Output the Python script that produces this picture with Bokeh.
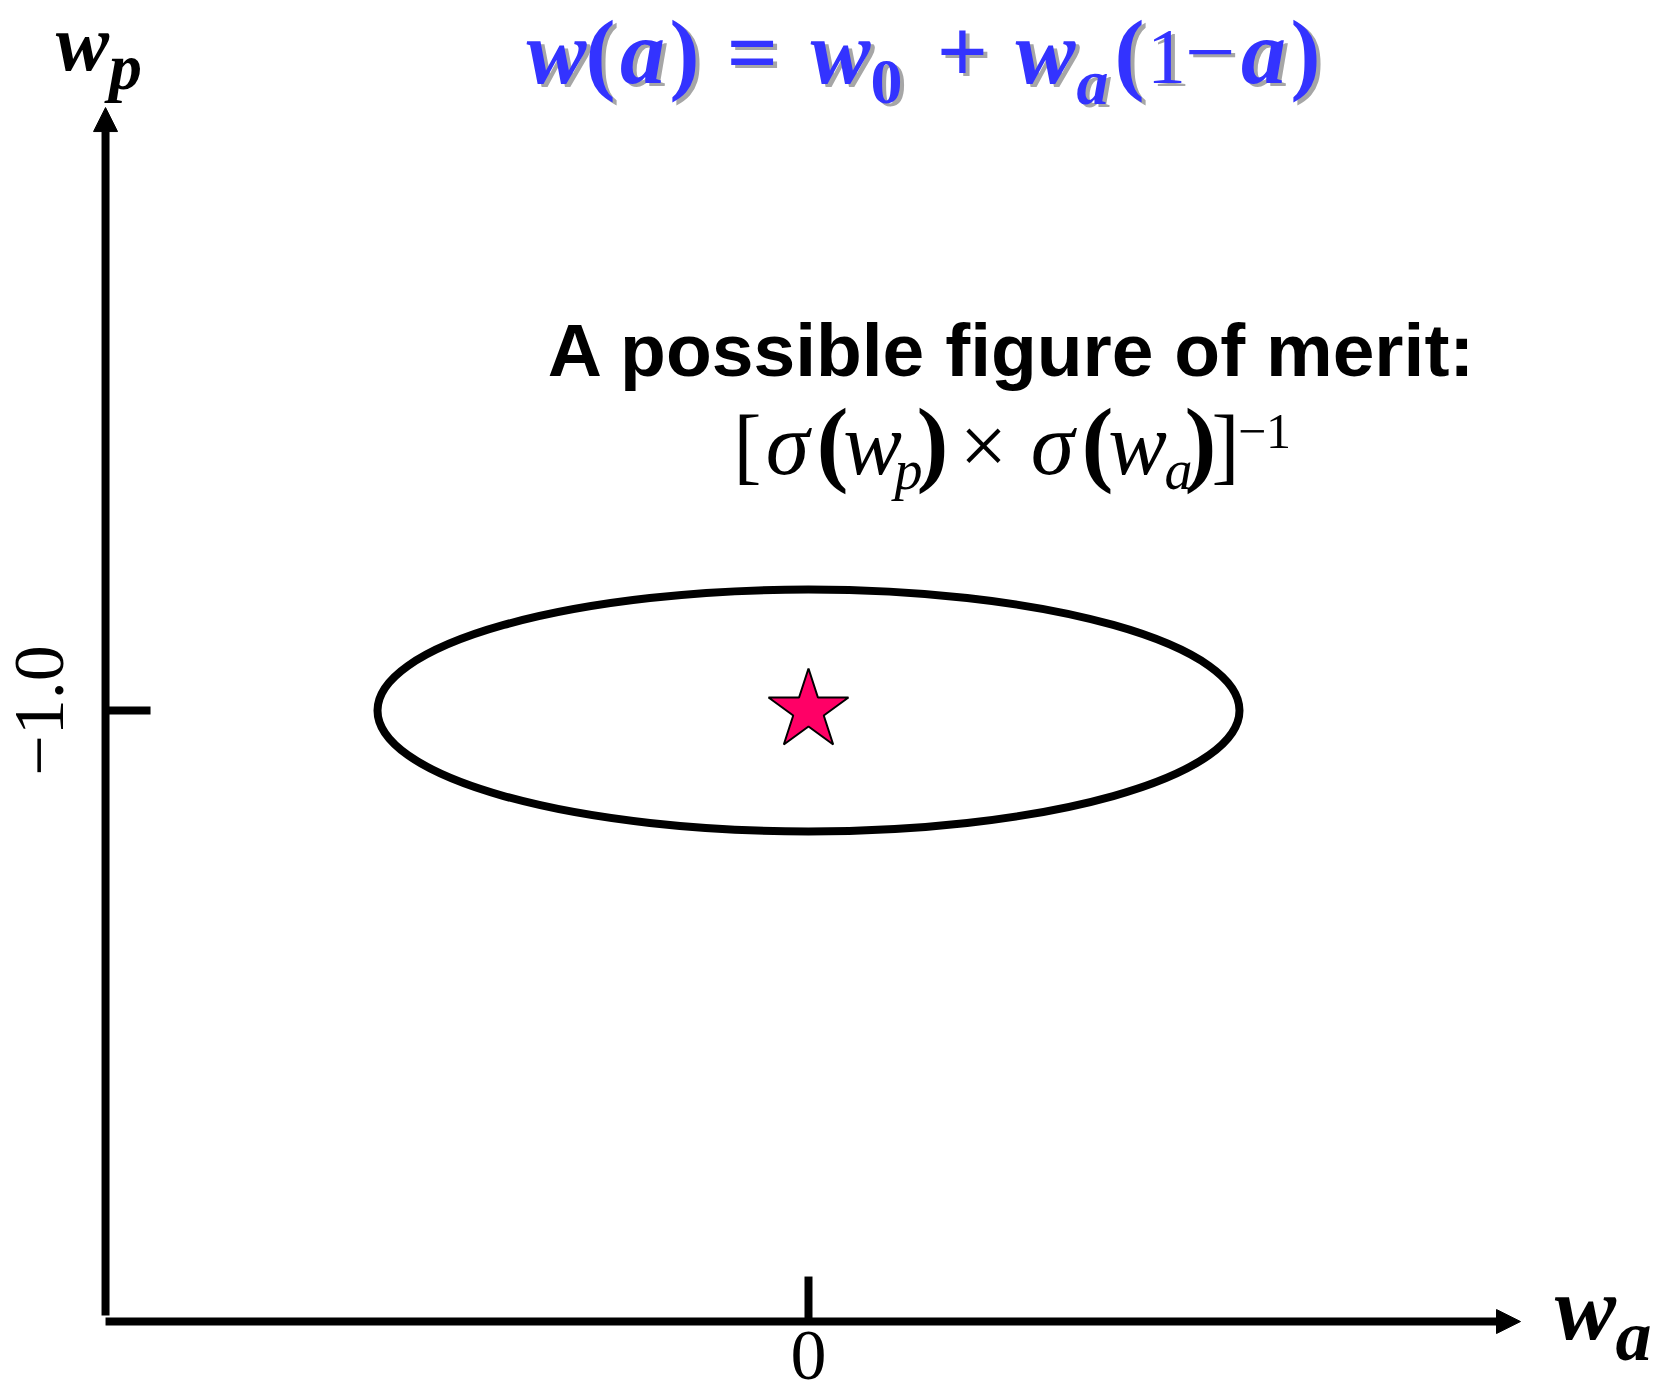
import math
from bokeh.plotting import figure
from bokeh.models import Range1d, Arrow, NormalHead, ColumnDataSource
from bokeh.core.properties import value
from bokeh.embed import file_html
from bokeh.resources import INLINE

# ---------------- data ----------------
wa_ticks = [0.0]
wa_tick_labels = ["0"]
wp_ticks = [-1.0]
wp_tick_labels = ["\u22121.0"]

fiducial_wa = [0.0]
fiducial_wp = [-1.0]
ellipse_wa_width = [1.0]     # full extent of the error ellipse along w_a
ellipse_wp_height = [0.2]    # full extent of the error ellipse along w_p

# ---------------- view ----------------
W, H = 1662, 1398
XMIN, XMAX = -0.93735, 0.99072
YMIN, YMAX = -1.56860, -0.41322

AX_X, AX_Y = -0.8155, -1.505      # axis origin
Y_AXIS_BOTTOM = -1.500
Y_TIP, X_TIP = -0.5017, 0.826
TICK_X, TICK_Y = 0.0522, 0.0372
K = 0.38   # baseline correction (fraction of font size)

p = figure(width=W, height=H, x_range=Range1d(XMIN, XMAX), y_range=Range1d(YMIN, YMAX),
           x_axis_type=None, y_axis_type=None, toolbar_location=None,
           output_backend="svg", min_border=0, outline_line_color=None)
p.grid.visible = False
p.background_fill_color = "white"
p.border_fill_color = "white"


def dx(px):
    return XMIN + px * (XMAX - XMIN) / W


def dy(py):
    return YMAX - py * (YMAX - YMIN) / H


# axes as arrows
p.add_layout(Arrow(end=NormalHead(size=24, fill_color="black", line_color="black"),
                   x_start=AX_X, y_start=Y_AXIS_BOTTOM, x_end=AX_X, y_end=Y_TIP,
                   line_width=8, line_color="black"))
p.add_layout(Arrow(end=NormalHead(size=24, fill_color="black", line_color="black"),
                   x_start=AX_X, y_start=AX_Y, x_end=X_TIP, y_end=AX_Y,
                   line_width=8, line_color="black"))

# ticks
p.segment(x0=wa_ticks, y0=[AX_Y] * len(wa_ticks), x1=wa_ticks, y1=[AX_Y + TICK_Y] * len(wa_ticks),
          line_width=8, line_color="black")
p.segment(x0=[AX_X] * len(wp_ticks), y0=wp_ticks, x1=[AX_X + TICK_X] * len(wp_ticks), y1=wp_ticks,
          line_width=8, line_color="black")

# tick labels
p.text(x=wa_ticks, y=[dy(1382 - K * 72)] * len(wa_ticks), text=wa_tick_labels,
       text_font=value("Liberation Serif"), text_font_size="72px",
       text_align="center", text_baseline="alphabetic", text_color="black")
p.text(x=[dx(66 - K * 72)] * len(wp_ticks), y=wp_ticks, text=wp_tick_labels, angle=math.pi / 2,
       text_font=value("Liberation Serif"), text_font_size="72px",
       text_align="center", text_baseline="alphabetic", text_color="black")

# error ellipse and fiducial
p.ellipse(x=fiducial_wa, y=fiducial_wp, width=ellipse_wa_width, height=ellipse_wp_height,
          fill_color=None, line_color="black", line_width=8)
p.scatter(x=fiducial_wa, y=fiducial_wp, marker="star", size=84,
          fill_color="#FF0066", line_color="black", line_width=2)

# ---------------- texts ----------------
BLUE = "#3333FF"
SHADOW = "#A6A6A6"

cols = dict(x=[], y=[], text=[], size=[], style=[], font=[], color=[], align=[])


def put(t, px, py, size, style="normal", font="Liberation Serif", color="black", align="center"):
    cols["x"].append(dx(px))
    cols["y"].append(dy(py - K * size))
    cols["text"].append(t)
    cols["size"].append(f"{size}px")
    cols["style"].append(style)
    cols["font"].append(font)
    cols["color"].append(color)
    cols["align"].append(align)


TB = 86   # title baseline
title_parts = [
    ("w", 556, TB, 90, "bold italic"),
    ("(", 600, TB, 90, "bold"),
    ("a", 642, TB, 90, "bold italic"),
    (")", 684, TB, 90, "bold"),
    ("=", 752, TB, 90, "bold"),
    ("w", 840, TB, 90, "bold italic"),
    ("0", 886, TB + 20, 64, "bold"),
    ("+", 962, TB, 90, "bold"),
    ("w", 1045, TB, 90, "bold italic"),
    ("a", 1092, TB + 20, 64, "bold italic"),
    ("(", 1129, TB, 90, "bold"),
    ("1", 1166, TB, 78, "normal"),
    ("\u2212", 1210, TB, 90, "normal"),
    ("a", 1263, TB, 90, "bold italic"),
    (")", 1305, TB, 90, "bold"),
]
for t, px, py, s, st in title_parts:
    put(t, px + 4, py + 3, s, st, color=SHADOW)
for t, px, py, s, st in title_parts:
    put(t, px, py, s, st, color=BLUE)

put("A possible figure of merit:", 1012, 378, 75, "bold", font="Liberation Sans")

fom_parts = [
    ("[", 747, 477, 84, "normal"),
    ("\u03c3", 787, 477, 88, "italic"),
    ("(", 832, 477, 96, "bold"),
    ("w", 872, 477, 88, "italic"),
    ("p", 908, 491, 56, "italic"),
    (")", 932, 477, 96, "bold"),
    ("\u00d7", 983, 477, 84, "normal"),
    ("\u03c3", 1052, 477, 88, "italic"),
    ("(", 1097, 477, 96, "bold"),
    ("w", 1137, 477, 88, "italic"),
    ("a", 1178, 491, 56, "italic"),
    (")", 1200, 477, 96, "bold"),
    ("]", 1225, 477, 84, "normal"),
    ("\u22121", 1264, 450, 50, "normal"),
]
for t, px, py, s, st in fom_parts:
    put(t, px, py, s, st)

# axis titles
put("w", 82, 73, 80, "bold italic")
put("p", 125, 91, 66, "bold italic")
put("w", 1585, 1342, 92, "bold italic")
put("a", 1633, 1363, 72, "bold italic")

src = ColumnDataSource(cols)
p.text(x="x", y="y", text="text", source=src, text_font="font", text_font_size="size",
       text_font_style="style", text_color="color", text_align="align",
       text_baseline="alphabetic")

open("out.html", "w").write(file_html(p, INLINE))
